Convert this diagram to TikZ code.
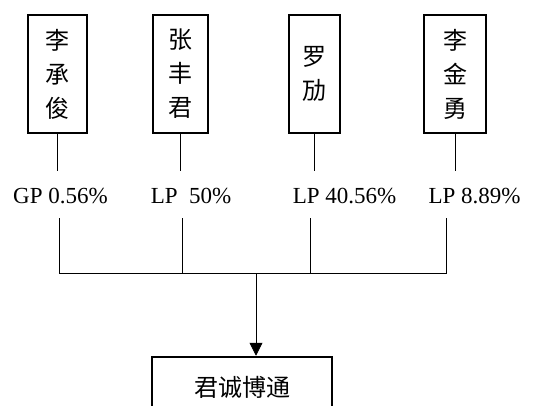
\documentclass[tikz,border=0pt]{standalone}
\usepackage{fontspec}
\setmainfont{Liberation Serif}
\newfontfamily\cjk{Noto Sans CJK SC}
\usetikzlibrary{arrows.meta}
\tikzset{
  holder/.style={draw,line width=2.5pt,inner sep=0pt,align=center,
    minimum height=118pt,font=\cjk\fontsize{24}{34}\selectfont},
  share/.style={inner sep=0pt,anchor=base,font=\fontsize{23}{28}\selectfont},
  link/.style={line width=0.8pt},
}
\begin{document}
\begin{tikzpicture}[x=1pt,y=-1pt]
  \useasboundingbox (0,0) rectangle (533,405);
  % partners
  \node[holder,minimum width=59pt] (p1) at (57.5,74) {李\\承\\俊};
  \node[holder,minimum width=55pt] (p2) at (180.5,74) {张\\丰\\君};
  \node[holder,minimum width=51pt] (p3) at (314.5,74) {罗\\劢};
  \node[holder,minimum width=62pt] (p4) at (455,74) {李\\金\\勇};
  % stakes
  \node[share] (s1) at (60.5,203.5) {GP 0.56\%};
  \node[share] (s2) at (191,203.5) {LP\ \ 50\%};
  \node[share] (s3) at (344.5,203.5) {LP 40.56\%};
  \node[share] (s4) at (474.5,203.5) {LP 8.89\%};
  % fund
  \node[holder,minimum width=180pt,minimum height=60pt,font=\cjk\fontsize{24}{30}\selectfont] (fund) at (242,387) {君诚博通};
  \coordinate (u1) at (59,218);\coordinate (u2) at (182,218);
  \coordinate (u3) at (310,218);\coordinate (u4) at (446,218);
  \coordinate (j1) at (59,273);\coordinate (j2) at (182,273);
  \coordinate (j3) at (310,273);\coordinate (j4) at (446,273);
  \coordinate (hub) at (256,273);
  \draw[link] (p1.south) -- ++(0,37) (p2.south) -- ++(0,37)
    (p3.south) -- ++(0,37) (p4.south) -- ++(0,37);
  \draw[link] (u1) -- (j1) -- (j4) -- (u4) (u2) -- (j2) (u3) -- (j3);
  \draw[link,-{Triangle[width=13pt,length=13pt]}] (hub) -- (hub |- fund.north);
\end{tikzpicture}
\end{document}
